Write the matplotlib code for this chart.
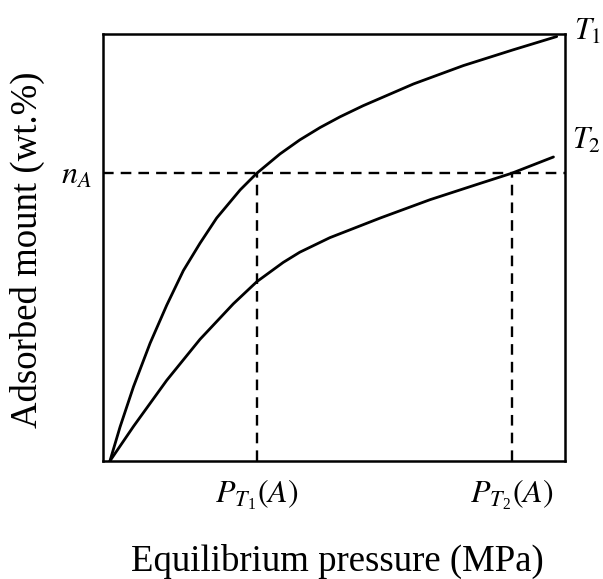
import numpy as np
import matplotlib.pyplot as plt

plt.rcParams['font.family'] = ['Liberation Serif', 'DejaVu Serif']
plt.rcParams['mathtext.fontset'] = 'stix'

# isotherm at T1 (higher uptake)
t1_x = [1.5, 3.7, 6.6, 10.2, 13.8, 17.4, 21.0, 24.6, 29.7, 33.3, 38.3, 42.6, 47.0, 51.3, 56.3, 67.2, 78.0, 88.8, 98.2]
t1_y = [0.0, 8.0, 17.4, 27.6, 36.5, 44.6, 51.0, 56.9, 63.5, 67.4, 71.9, 75.2, 78.1, 80.6, 83.2, 88.3, 92.6, 96.3, 99.4]

# isotherm at T2 (lower uptake)
t2_x = [1.5, 6.6, 13.8, 21.0, 28.2, 33.3, 39.0, 42.6, 49.1, 60.0, 70.8, 81.6, 88.5, 97.5]
t2_y = [0.0, 8.1, 18.9, 28.5, 36.8, 42.0, 46.5, 48.9, 52.3, 56.9, 61.2, 65.0, 67.4, 71.2]

n_a = 67.4
p_t1 = 33.3
p_t2 = 88.5

fig = plt.figure(figsize=(6.03, 5.79), dpi=100)
ax = fig.add_axes([0.1708, 0.2038, 0.7662, 0.7375])

ax.plot(t1_x, t1_y, color="black", linewidth=2.0, solid_capstyle="round", solid_joinstyle="round")
ax.plot(t2_x, t2_y, color="black", linewidth=2.0, solid_capstyle="round", solid_joinstyle="round")

dash = (0, (4.5, 3))
ax.plot([0, 100], [n_a, n_a], color="black", linewidth=1.7, linestyle=dash)
ax.plot([p_t1, p_t1], [0, n_a], color="black", linewidth=1.7, linestyle=dash)
ax.plot([p_t2, p_t2], [0, n_a], color="black", linewidth=1.7, linestyle=dash)

ax.set_xlim(0, 100)
ax.set_ylim(0, 100)
for s in ax.spines.values():
    s.set_linewidth(1.8)

ax.set_xticks([p_t1, p_t2])
ax.set_xticklabels([r"$P_{T_\mathregular{1}}(A)$", r"$P_{T_\mathregular{2}}(A)$"], fontsize=23)
ax.set_yticks([n_a])
ax.set_yticklabels([r"$n_A$"], fontsize=23)
ax.tick_params(axis="x", length=0, pad=12)
ax.tick_params(axis="y", length=0, pad=8)

ax.text(101.9, 100.5, r"$T_\mathit{1}$", fontsize=22, ha="left", va="center", clip_on=False)
ax.text(101.5, 75.0, r"$T_\mathit{2}$", fontsize=22, ha="left", va="center", clip_on=False)

fig.text(0.56, 0.03, "Equilibrium pressure (MPa)", fontsize=26.5, ha="center", va="center")
fig.text(0.045, 0.568, "Adsorbed mount (wt.%)", fontsize=26.5, ha="center", va="center", rotation=90)

fig.savefig("out.png", dpi=100)
